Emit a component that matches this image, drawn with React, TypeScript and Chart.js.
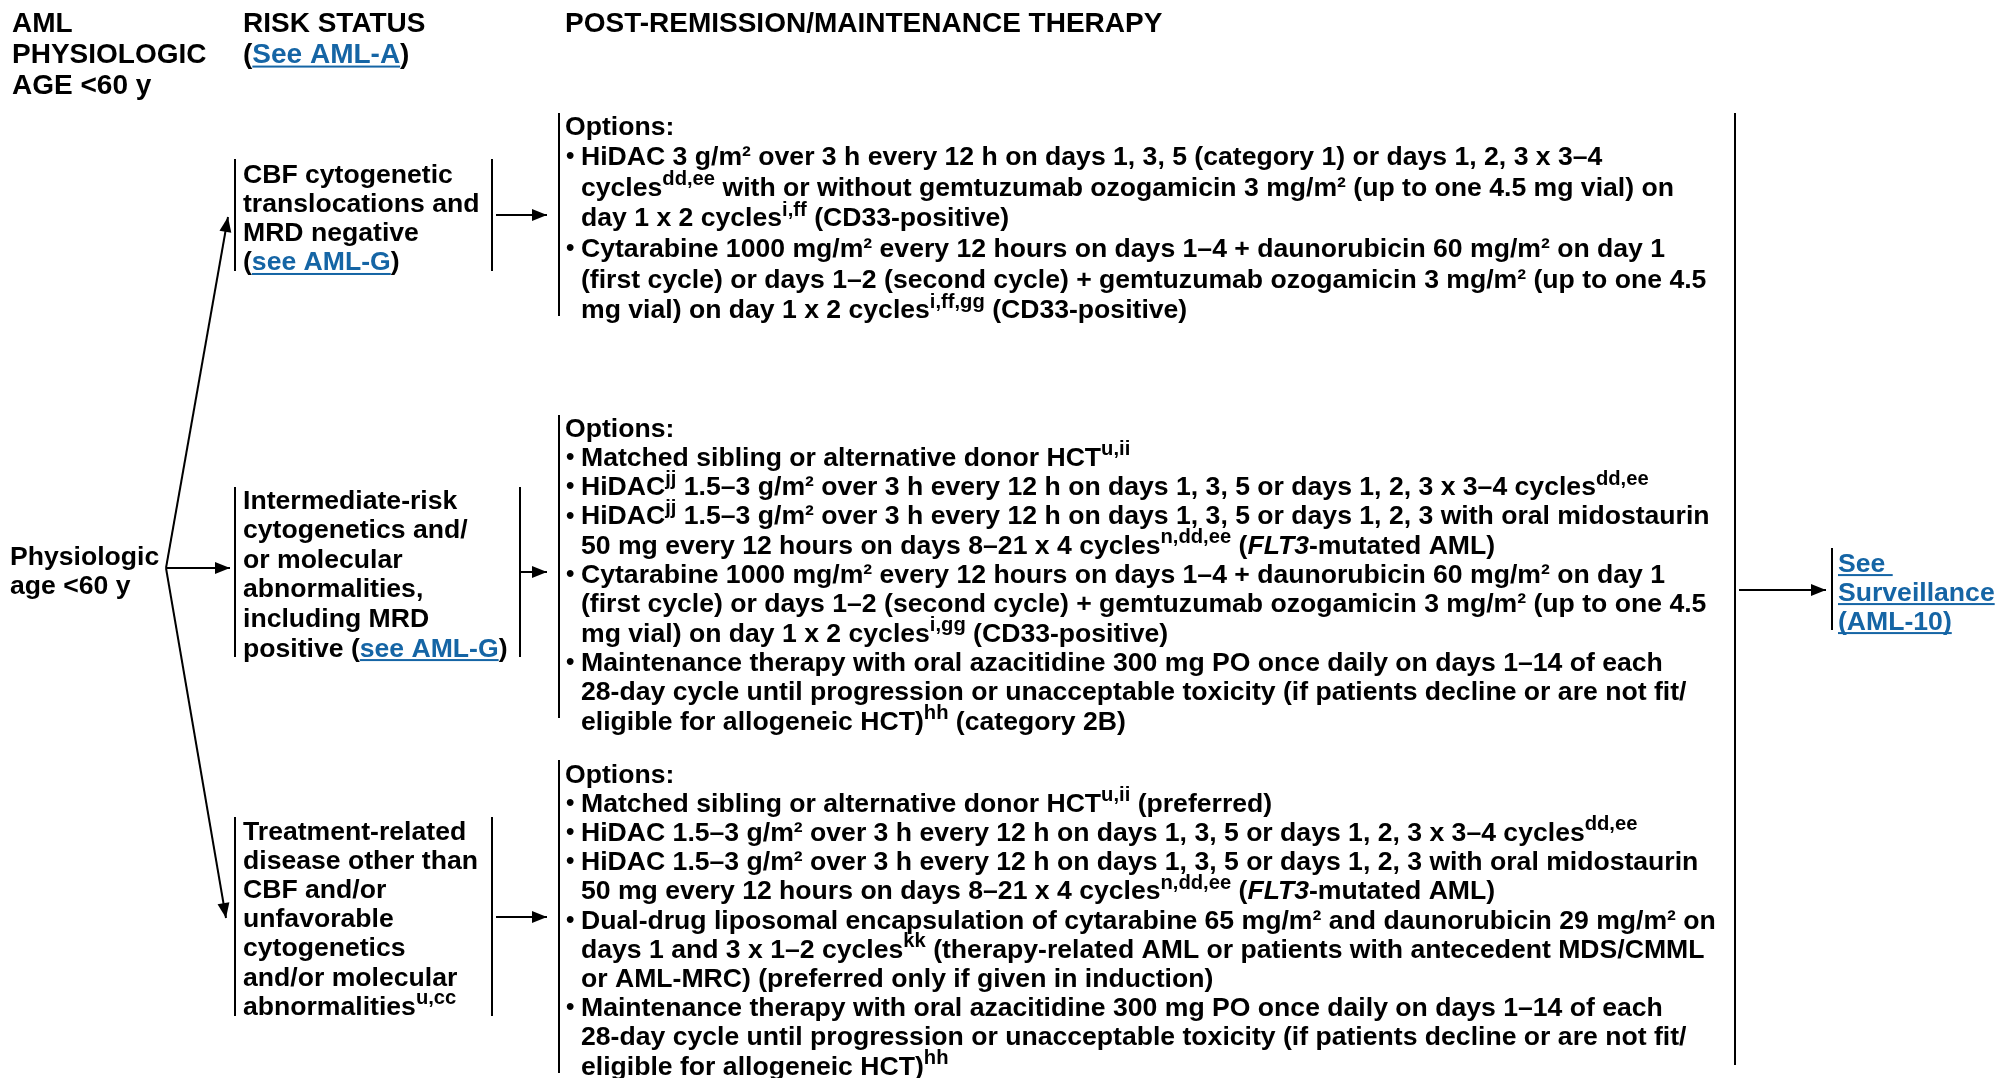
import React, { useEffect, useRef } from "react";
import { Chart, registerables } from "chart.js";

Chart.register(...registerables);

// ---------- content (text of the flowchart) ----------
const headerAge = ["AML", "PHYSIOLOGIC", "AGE <60 y"];
const headerRisk = ["RISK STATUS", "({@See AML-A})"];
const headerTherapy = ["POST-REMISSION/MAINTENANCE THERAPY"];

const rootNode = ["Physiologic", "age <60 y"];

const riskCBF = ["CBF cytogenetic", "translocations and", "MRD negative", "({@see AML-G})"];
const riskIntermediate = [
  "Intermediate-risk",
  "cytogenetics and/",
  "or molecular",
  "abnormalities,",
  "including MRD",
  "positive ({@see AML-G})",
];
const riskTreatment = [
  "Treatment-related",
  "disease other than",
  "CBF and/or",
  "unfavorable",
  "cytogenetics",
  "and/or molecular",
  "abnormalities{^u,cc}",
];

const optionsTitle = "Options:";

const optionsCBF: string[][] = [
  [
    "HiDAC 3 g/m² over 3 h every 12 h on days 1, 3, 5 (category 1) or days 1, 2, 3 x 3–4",
    "cycles{^dd,ee} with or without gemtuzumab ozogamicin 3 mg/m² (up to one 4.5 mg vial) on",
    "day 1 x 2 cycles{^i,ff} (CD33-positive)",
  ],
  [
    "Cytarabine 1000 mg/m² every 12 hours on days 1–4 + daunorubicin 60 mg/m² on day 1",
    "(first cycle) or days 1–2 (second cycle) + gemtuzumab ozogamicin 3 mg/m² (up to one 4.5",
    "mg vial) on day 1 x 2 cycles{^i,ff,gg} (CD33-positive)",
  ],
];

const optionsIntermediate: string[][] = [
  ["Matched sibling or alternative donor HCT{^u,ii}"],
  ["HiDAC{^jj} 1.5–3 g/m² over 3 h every 12 h on days 1, 3, 5 or days 1, 2, 3 x 3–4 cycles{^dd,ee}"],
  [
    "HiDAC{^jj} 1.5–3 g/m² over 3 h every 12 h on days 1, 3, 5 or days 1, 2, 3 with oral midostaurin",
    "50 mg every 12 hours on days 8–21 x 4 cycles{^n,dd,ee} ({/FLT3}-mutated AML)",
  ],
  [
    "Cytarabine 1000 mg/m² every 12 hours on days 1–4 + daunorubicin 60 mg/m² on day 1",
    "(first cycle) or days 1–2 (second cycle) + gemtuzumab ozogamicin 3 mg/m² (up to one 4.5",
    "mg vial) on day 1 x 2 cycles{^i,gg} (CD33-positive)",
  ],
  [
    "Maintenance therapy with oral azacitidine 300 mg PO once daily on days 1–14 of each",
    "28-day cycle until progression or unacceptable toxicity (if patients decline or are not fit/",
    "eligible for allogeneic HCT){^hh} (category 2B)",
  ],
];

const optionsTreatment: string[][] = [
  ["Matched sibling or alternative donor HCT{^u,ii} (preferred)"],
  ["HiDAC 1.5–3 g/m² over 3 h every 12 h on days 1, 3, 5 or days 1, 2, 3 x 3–4 cycles{^dd,ee}"],
  [
    "HiDAC 1.5–3 g/m² over 3 h every 12 h on days 1, 3, 5 or days 1, 2, 3 with oral midostaurin",
    "50 mg every 12 hours on days 8–21 x 4 cycles{^n,dd,ee} ({/FLT3}-mutated AML)",
  ],
  [
    "Dual-drug liposomal encapsulation of cytarabine 65 mg/m² and daunorubicin 29 mg/m² on",
    "days 1 and 3 x 1–2 cycles{^kk} (therapy-related AML or patients with antecedent MDS/CMML",
    "or AML-MRC) (preferred only if given in induction)",
  ],
  [
    "Maintenance therapy with oral azacitidine 300 mg PO once daily on days 1–14 of each",
    "28-day cycle until progression or unacceptable toxicity (if patients decline or are not fit/",
    "eligible for allogeneic HCT){^hh}",
  ],
];

const surveillanceNode = ["{@See }", "{@Surveillance}", "{@(AML-10)}"];

// ---------- layout (in scale units, 0..1999 x 0..1078) ----------
const W = 1999;
const H = 1078;
const FONT = '"Liberation Sans", Arial, Helvetica, sans-serif';
const BODY = 26.6;
const HEAD = 28;
const LINK = "#1565a5";

type Block = { lines: string[]; x: number; y0: number; dy: number; size: number };
const textBlocks: Block[] = [
  { lines: headerAge, x: 12, y0: 22, dy: 31, size: HEAD },
  { lines: headerRisk, x: 243, y0: 22, dy: 31, size: HEAD },
  { lines: headerTherapy, x: 565, y0: 22, dy: 31, size: HEAD },
  { lines: rootNode, x: 10, y0: 555, dy: 29, size: BODY },
  { lines: riskCBF, x: 243, y0: 173, dy: 29.3, size: BODY },
  { lines: riskIntermediate, x: 243, y0: 499, dy: 29.6, size: BODY },
  { lines: riskTreatment, x: 243, y0: 830, dy: 29.2, size: BODY },
  { lines: surveillanceNode, x: 1838, y0: 562, dy: 29, size: BODY },
];

type OptBlock = { bullets: string[][]; x: number; bx: number; tx: number; y0: number; dy: number };
const optionBlocks: OptBlock[] = [
  { bullets: optionsCBF, x: 565, bx: 566, tx: 581, y0: 125, dy: 30.6 },
  { bullets: optionsIntermediate, x: 565, bx: 566, tx: 581, y0: 427, dy: 29.3 },
  { bullets: optionsTreatment, x: 565, bx: 566, tx: 581, y0: 773, dy: 29.2 },
];

// connectors: [x1, y1, x2, y2, arrowAtEnd]
const vertex = [166, 568];
const connectors: [number, number, number, number, boolean][] = [
  [vertex[0], vertex[1], 228, 217, true],
  [vertex[0], vertex[1], 230, 568, true],
  [vertex[0], vertex[1], 226, 918, true],
  [235, 159, 235, 271, false],
  [492, 159, 492, 271, false],
  [235, 487, 235, 657, false],
  [520, 487, 520, 657, false],
  [235, 817, 235, 1016, false],
  [492, 817, 492, 1016, false],
  [496, 215, 547, 215, true],
  [521, 572, 547, 572, true],
  [496, 917, 547, 917, true],
  [559, 113, 559, 316, false],
  [559, 415, 559, 718, false],
  [559, 760, 559, 1073, false],
  [1735, 113, 1735, 1065, false],
  [1739, 590, 1826, 590, true],
  [1832, 548, 1832, 630, false],
];

// ---------- rich text ----------
type Seg = { t: string; kind: "n" | "^" | "/" | "@" };
function parse(s: string): Seg[] {
  const out: Seg[] = [];
  const re = /\{([\^\/@])([^}]*)\}/g;
  let last = 0;
  let m: RegExpExecArray | null;
  while ((m = re.exec(s))) {
    if (m.index > last) out.push({ t: s.slice(last, m.index), kind: "n" });
    out.push({ t: m[2], kind: m[1] as Seg["kind"] });
    last = m.index + m[0].length;
  }
  if (last < s.length) out.push({ t: s.slice(last), kind: "n" });
  return out;
}

function drawRich(ctx: CanvasRenderingContext2D, s: string, x: number, yc: number, size: number) {
  const base = yc + size * 0.36;
  let cx = x;
  for (const seg of parse(s)) {
    let font = `bold ${size}px ${FONT}`;
    let y = base;
    ctx.fillStyle = "#000";
    if (seg.kind === "^") {
      font = `bold ${(size * 0.76).toFixed(1)}px ${FONT}`;
      y = base - size * 0.4;
    } else if (seg.kind === "/") {
      font = `italic bold ${size}px ${FONT}`;
    } else if (seg.kind === "@") {
      ctx.fillStyle = LINK;
    }
    ctx.font = font;
    ctx.fillText(seg.t, cx, y);
    const w = ctx.measureText(seg.t).width;
    if (seg.kind === "@") ctx.fillRect(cx, base + 2.5, w, 2);
    cx += w;
  }
}

const flowPlugin = {
  id: "flowText",
  afterDatasetsDraw(chart: any) {
    const { ctx } = chart;
    const sx = chart.scales.x;
    const sy = chart.scales.y;
    const px = (v: number) => sx.getPixelForValue(v);
    const py = (v: number) => sy.getPixelForValue(v);
    ctx.save();
    // arrowheads
    ctx.fillStyle = "#000";
    for (const [x1, y1, x2, y2, arrow] of connectors) {
      if (!arrow) continue;
      const X1 = px(x1), Y1 = py(y1), X2 = px(x2), Y2 = py(y2);
      const a = Math.atan2(Y2 - Y1, X2 - X1);
      const L = 15, hw = 6;
      ctx.beginPath();
      ctx.moveTo(X2, Y2);
      ctx.lineTo(X2 - L * Math.cos(a) + hw * Math.sin(a), Y2 - L * Math.sin(a) - hw * Math.cos(a));
      ctx.lineTo(X2 - L * Math.cos(a) - hw * Math.sin(a), Y2 - L * Math.sin(a) + hw * Math.cos(a));
      ctx.closePath();
      ctx.fill();
    }
    ctx.textBaseline = "alphabetic";
    ctx.textAlign = "left";
    for (const b of textBlocks) {
      b.lines.forEach((ln, i) => drawRich(ctx, ln, px(b.x), py(b.y0 + i * b.dy), b.size));
    }
    for (const ob of optionBlocks) {
      let row = 0;
      drawRich(ctx, optionsTitle, px(ob.x), py(ob.y0), BODY);
      row++;
      for (const bullet of ob.bullets) {
        bullet.forEach((ln, i) => {
          const yc = py(ob.y0 + row * ob.dy);
          if (i === 0) drawRich(ctx, "•", px(ob.bx), yc, BODY * 0.9);
          drawRich(ctx, ln, px(ob.tx), yc, BODY);
          row++;
        });
      }
    }
    ctx.restore();
  },
};

export default function App() {
  const ref = useRef<HTMLCanvasElement | null>(null);
  useEffect(() => {
    document.body.style.margin = "0";
    const canvas = ref.current;
    if (!canvas) return;
    const chart = new Chart(canvas, {
      type: "scatter",
      data: {
        datasets: connectors.map(([x1, y1, x2, y2]) => ({
          data: [
            { x: x1, y: y1 },
            { x: x2, y: y2 },
          ],
          showLine: true,
          borderColor: "#000",
          borderWidth: 2,
          pointRadius: 0,
          pointHoverRadius: 0,
          fill: false,
          tension: 0,
        })),
      },
      options: {
        animation: false,
        responsive: false,
        devicePixelRatio: 1,
        events: [],
        layout: { padding: 0 },
        plugins: { legend: { display: false }, tooltip: { enabled: false }, title: { display: false } },
        scales: {
          x: { type: "linear", min: 0, max: W, display: false },
          y: { type: "linear", min: 0, max: H, reverse: true, display: false },
        },
      },
      plugins: [flowPlugin],
    } as any);
    return () => chart.destroy();
  }, []);
  return (
    <div style={{ position: "fixed", left: 0, top: 0, width: W, height: H, background: "#fff" }}>
      <canvas ref={ref} width={W} height={H} style={{ display: "block" }} />
    </div>
  );
}
